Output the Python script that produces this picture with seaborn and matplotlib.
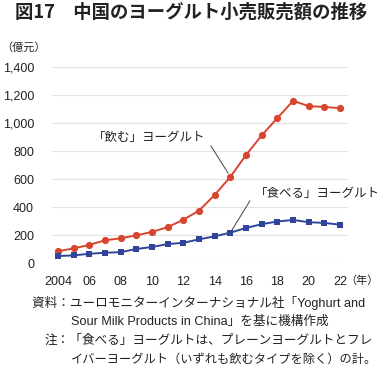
import numpy as np
import pandas as pd
import matplotlib
matplotlib.use("Agg")
import matplotlib.pyplot as plt
import seaborn as sns

# --- data ---
years = list(range(2004, 2023))
drink_values = [85, 105, 130, 163, 177, 198, 223, 257, 310, 375, 487, 616, 772,
                912, 1036, 1158, 1121, 1114, 1107]
eat_values = [51, 55, 67, 74, 78, 101, 115, 136, 145, 170, 191, 218, 251,
              278, 297, 308, 292, 287, 274]
tick_years = [2004, 2006, 2008, 2010, 2012, 2014, 2016, 2018, 2020, 2022]
tick_labels = ["2004", "06", "08", "10", "12", "14", "16", "18", "20", "22"]
y_ticks = [0, 200, 400, 600, 800, 1000, 1200, 1400]

df = pd.DataFrame({"year": years, "drink": drink_values, "eat": eat_values})

sns.set_theme(style="whitegrid")
plt.rcParams['font.family'] = ['Liberation Sans', 'Noto Sans CJK JP', 'DejaVu Sans']

RED = "#d8452f"
BLUE = "#30459a"
TEXT = "#222222"
CJK = ['Noto Sans CJK JP', 'DejaVu Sans']

fig = plt.figure(figsize=(3.8, 3.68), dpi=100)
ax = fig.add_axes([0.137, 0.285, 0.779, 0.533])

sns.lineplot(data=df, x="year", y="drink", ax=ax, color=RED, marker="o",
             markersize=5.2, markeredgewidth=0, linewidth=1.4, clip_on=False)
sns.lineplot(data=df, x="year", y="eat", ax=ax, color=BLUE, marker="s",
             markersize=4.3, markeredgewidth=0, linewidth=1.4, clip_on=False)

ax.set_xlim(2003.62, 2022.51)
ax.set_ylim(0, 1400)
ax.set_yticks(y_ticks)
ax.set_yticklabels([f"{v:,}" for v in y_ticks])
ax.set_xticks(tick_years)
ax.set_xticklabels(tick_labels)
ax.set_xlabel("")
ax.set_ylabel("")
ax.grid(axis="x", visible=False)
ax.grid(axis="y", color="#e2e2e2", linewidth=0.8)
for s in ax.spines.values():
    s.set_visible(False)
ax.tick_params(axis="y", length=0, pad=13, labelsize=9, labelcolor=TEXT)
ax.tick_params(axis="x", length=0, pad=9, labelsize=9, labelcolor=TEXT)

# unit labels
fig.text(1 / 380, 1 - 47 / 368, "（億元）", fontsize=8, color=TEXT, va="center", ha="left",
         family=CJK)
fig.text(379 / 380, 1 - 281 / 368, "（年）", fontsize=8, color=TEXT, va="center", ha="right",
         family=CJK)

# series labels with leader lines
ax.annotate("「飲む」ヨーグルト", xy=(2015, drink_values[11]), xytext=(2013.4, 900),
            fontsize=9, color=TEXT, ha="right", va="center", family=CJK,
            arrowprops=dict(arrowstyle="-", color="#444444", lw=0.7, relpos=(1, 0.5),
                            shrinkA=3, shrinkB=3))
ax.annotate("「食べる」ヨーグルト", xy=(2015, eat_values[11]), xytext=(2016.55, 500),
            fontsize=9, color=TEXT, ha="left", va="center", family=CJK,
            arrowprops=dict(arrowstyle="-", color="#444444", lw=0.7, relpos=(0, 0.5),
                            shrinkA=2, shrinkB=2))

# title
fig.text(15 / 380, 1 - 12 / 368, "図17　中国のヨーグルト小売販売額の推移",
         fontsize=13.2, fontweight="bold", color=TEXT, va="center", ha="left", family=CJK)

# notes
note_size = 9.1
fig.text(32 / 380, 1 - 303 / 368, "資料：ユーロモニターインターナショナル社「Yoghurt and",
         fontsize=note_size, color=TEXT, va="center", ha="left")
fig.text(71 / 380, 1 - 322 / 368, "Sour Milk Products in China」を基に機構作成",
         fontsize=note_size, color=TEXT, va="center", ha="left")
fig.text(45 / 380, 1 - 341 / 368, "注：「食べる」ヨーグルトは、プレーンヨーグルトとフレ",
         fontsize=note_size, color=TEXT, va="center", ha="left")
fig.text(71 / 380, 1 - 360 / 368, "イバーヨーグルト（いずれも飲むタイプを除く）の計。",
         fontsize=8.8, color=TEXT, va="center", ha="left")

fig.savefig("out.png", dpi=100, facecolor="white")
